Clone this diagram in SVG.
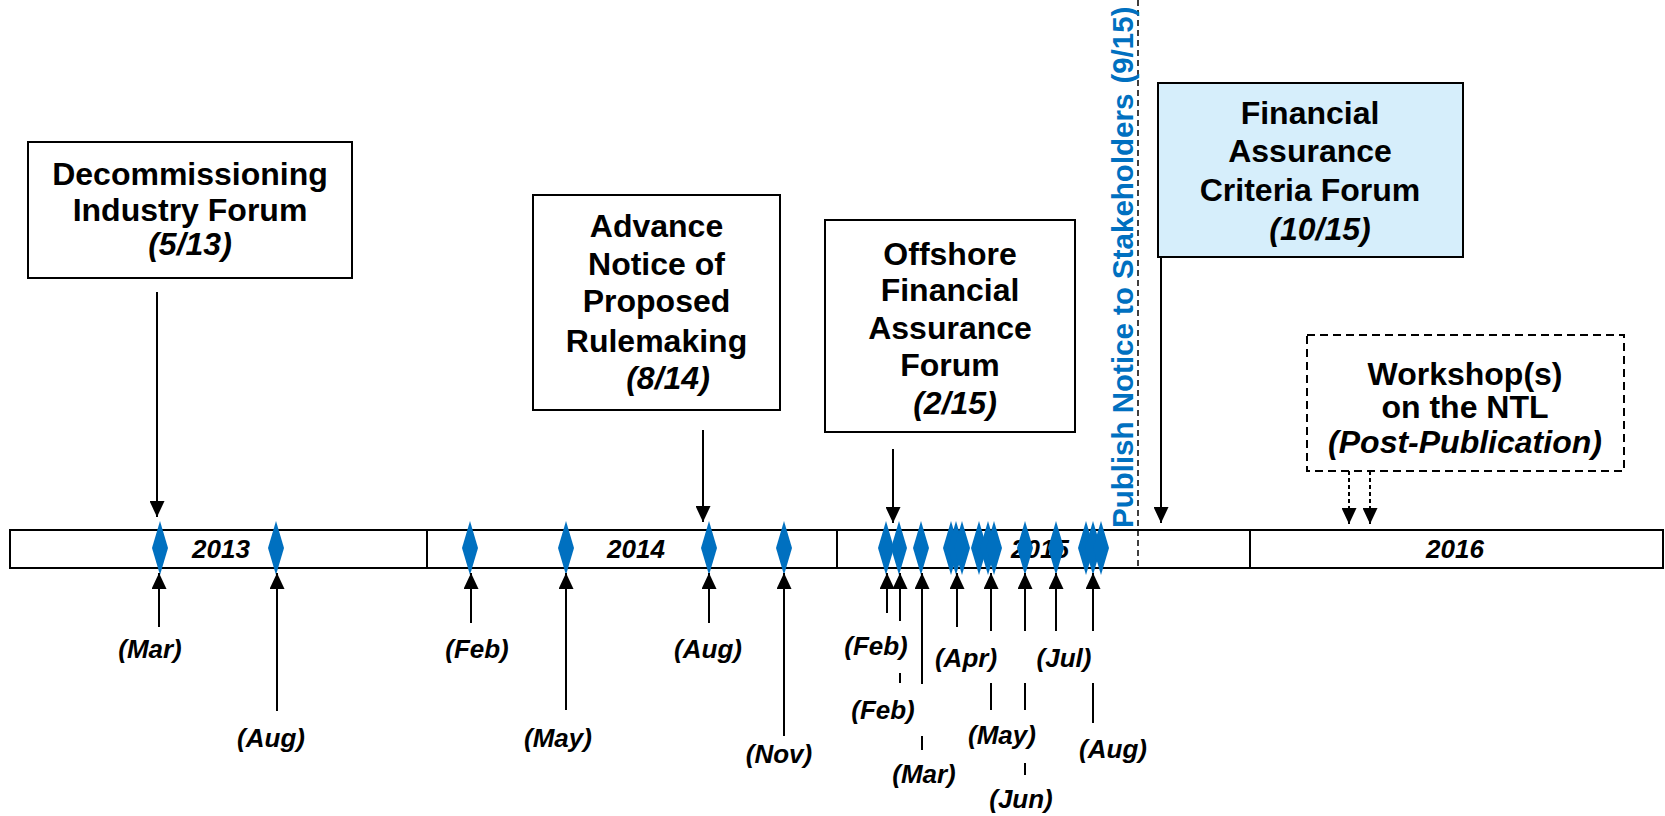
<svg xmlns="http://www.w3.org/2000/svg" width="1665" height="816" viewBox="0 0 1665 816">
<style>
.box{fill:#fff;stroke:#000;stroke-width:2}
.fa{fill:#d6eefb;stroke:#000;stroke-width:2}
.dbox{fill:#fff;stroke:#000;stroke-width:2;stroke-dasharray:8 5}
.t{font-family:"Liberation Sans",Arial,sans-serif;font-weight:bold;font-size:32px;text-anchor:middle;fill:#000}
.it{font-style:italic}
.lbl{font-family:"Liberation Sans",Arial,sans-serif;font-weight:bold;font-style:italic;font-size:26px;text-anchor:middle;fill:#000}
.yr{font-family:"Liberation Sans",Arial,sans-serif;font-weight:bold;font-style:italic;font-size:26px;text-anchor:middle;fill:#000}
.vt{font-family:"Liberation Sans",Arial,sans-serif;font-weight:bold;font-size:29.5px;fill:#0070c0}
.c{stroke:#000;stroke-width:2;fill:none}
.cd{stroke:#000;stroke-width:2;fill:none;stroke-dasharray:4 3}
.bar{fill:#fff;stroke:#000;stroke-width:2}
.dm{fill:#0070c0}
</style>
<defs>
<marker id="ah" viewBox="0 0 16 15" refX="16" refY="7.5" markerWidth="16" markerHeight="15" markerUnits="userSpaceOnUse" orient="auto">
<path d="M0,0 L16,7.5 L0,15 Z" fill="#000"/>
</marker>
<path id="dmd" d="M0,-27 L8,0 L0,27 L-8,0 Z"/>
</defs>

<g id="timeline">
<rect class="bar" x="10" y="530" width="1653" height="38"/>
<line class="c" x1="427" y1="530" x2="427" y2="568"/>
<line class="c" x1="837" y1="530" x2="837" y2="568"/>
<line class="c" x1="1250" y1="530" x2="1250" y2="568"/>
<text class="yr" x="221" y="558">2013</text>
<text class="yr" x="636" y="558">2014</text>
<text class="yr" x="1040" y="558">2015</text>
<text class="yr" x="1455" y="558">2016</text>
</g>

<g id="publish-notice">
<line x1="1138" y1="0" x2="1138" y2="568" stroke="#000" stroke-width="1.5" stroke-dasharray="6 4"/>
<text class="vt" transform="translate(1133,528) rotate(-90)">Publish Notice to Stakeholders<tspan dx="10">(9/15)</tspan></text>
</g>

<g id="milestones" class="dm">
<use href="#dmd" x="160" y="548"/>
<use href="#dmd" x="276" y="548"/>
<use href="#dmd" x="470" y="548"/>
<use href="#dmd" x="566" y="548"/>
<use href="#dmd" x="709" y="548"/>
<use href="#dmd" x="784" y="548"/>
<use href="#dmd" x="886" y="548"/>
<use href="#dmd" x="899" y="548"/>
<use href="#dmd" x="921" y="548"/>
<use href="#dmd" x="951" y="548"/>
<use href="#dmd" x="956" y="548"/>
<use href="#dmd" x="962" y="548"/>
<use href="#dmd" x="979" y="548"/>
<use href="#dmd" x="988" y="548"/>
<use href="#dmd" x="994" y="548"/>
<use href="#dmd" x="1025" y="548"/>
<use href="#dmd" x="1056" y="548"/>
<use href="#dmd" x="1086" y="548"/>
<use href="#dmd" x="1093" y="548"/>
<use href="#dmd" x="1101" y="548"/>
</g>

<g id="node-decommissioning">
<rect class="box" x="28" y="142" width="324" height="136"/>
<text class="t" x="190" y="184.5">Decommissioning</text>
<text class="t" x="190" y="220.5">Industry Forum</text>
<text class="t it" x="190" y="255">(5/13)</text>
</g>

<g id="node-anpr">
<rect class="box" x="533" y="195" width="247" height="215"/>
<text class="t" x="656.5" y="237">Advance</text>
<text class="t" x="656.5" y="274.5">Notice of</text>
<text class="t" x="656.5" y="312">Proposed</text>
<text class="t" x="656.5" y="352">Rulemaking</text>
<text class="t it" x="668" y="389">(8/14)</text>
</g>

<g id="node-offshore">
<rect class="box" x="825" y="220" width="250" height="212"/>
<text class="t" x="950" y="265">Offshore</text>
<text class="t" x="950" y="301">Financial</text>
<text class="t" x="950" y="339">Assurance</text>
<text class="t" x="950" y="376">Forum</text>
<text class="t it" x="955" y="414">(2/15)</text>
</g>

<g id="node-criteria">
<rect class="fa" x="1158" y="83" width="305" height="174"/>
<text class="t" x="1310" y="124">Financial</text>
<text class="t" x="1310" y="161.5">Assurance</text>
<text class="t" x="1310" y="201">Criteria Forum</text>
<text class="t it" x="1320" y="240">(10/15)</text>
</g>

<g id="node-workshop">
<rect class="dbox" x="1307" y="335" width="317" height="136"/>
<text class="t" x="1465" y="385">Workshop(s)</text>
<text class="t" x="1465" y="418">on the NTL</text>
<text class="t it" x="1465" y="453">(Post-Publication)</text>
</g>

<g id="connectors">
<line class="c" x1="157" y1="292" x2="157" y2="517" marker-end="url(#ah)"/>
<line class="c" x1="703" y1="430" x2="703" y2="522" marker-end="url(#ah)"/>
<line class="c" x1="893" y1="449" x2="893" y2="523" marker-end="url(#ah)"/>
<line class="c" x1="1161" y1="257" x2="1161" y2="523" marker-end="url(#ah)"/>
<line class="cd" x1="1349" y1="471" x2="1349" y2="524" marker-end="url(#ah)"/>
<line class="cd" x1="1370" y1="471" x2="1370" y2="524" marker-end="url(#ah)"/>

<line class="c" x1="159" y1="627" x2="159" y2="573" marker-end="url(#ah)"/>
<line class="c" x1="277" y1="711" x2="277" y2="573" marker-end="url(#ah)"/>
<line class="c" x1="471" y1="623" x2="471" y2="573" marker-end="url(#ah)"/>
<line class="c" x1="566" y1="710" x2="566" y2="573" marker-end="url(#ah)"/>
<line class="c" x1="709" y1="623" x2="709" y2="573" marker-end="url(#ah)"/>
<line class="c" x1="784" y1="736" x2="784" y2="573" marker-end="url(#ah)"/>
<line class="c" x1="887" y1="613" x2="887" y2="573" marker-end="url(#ah)"/>
<line class="c" x1="900" y1="621" x2="900" y2="573" marker-end="url(#ah)"/>
<line class="c" x1="900" y1="673" x2="900" y2="683"/>
<line class="c" x1="922" y1="684" x2="922" y2="573" marker-end="url(#ah)"/>
<line class="c" x1="922" y1="736" x2="922" y2="750"/>
<line class="c" x1="957" y1="627" x2="957" y2="573" marker-end="url(#ah)"/>
<line class="c" x1="991" y1="631" x2="991" y2="573" marker-end="url(#ah)"/>
<line class="c" x1="991" y1="683" x2="991" y2="710"/>
<line class="c" x1="1025" y1="631" x2="1025" y2="573" marker-end="url(#ah)"/>
<line class="c" x1="1025" y1="683" x2="1025" y2="710"/>
<line class="c" x1="1025" y1="763" x2="1025" y2="775"/>
<line class="c" x1="1056" y1="631" x2="1056" y2="573" marker-end="url(#ah)"/>
<line class="c" x1="1093" y1="631" x2="1093" y2="573" marker-end="url(#ah)"/>
<line class="c" x1="1093" y1="683" x2="1093" y2="723"/>
</g>

<g id="month-labels">
<text class="lbl" x="150" y="658">(Mar)</text>
<text class="lbl" x="271" y="747">(Aug)</text>
<text class="lbl" x="477" y="658">(Feb)</text>
<text class="lbl" x="558" y="747">(May)</text>
<text class="lbl" x="708" y="658">(Aug)</text>
<text class="lbl" x="779" y="763">(Nov)</text>
<text class="lbl" x="876" y="655">(Feb)</text>
<text class="lbl" x="883" y="719">(Feb)</text>
<text class="lbl" x="924" y="783">(Mar)</text>
<text class="lbl" x="966" y="667">(Apr)</text>
<text class="lbl" x="1002" y="744">(May)</text>
<text class="lbl" x="1021" y="808">(Jun)</text>
<text class="lbl" x="1064" y="667">(Jul)</text>
<text class="lbl" x="1113" y="758">(Aug)</text>
</g>
</svg>
